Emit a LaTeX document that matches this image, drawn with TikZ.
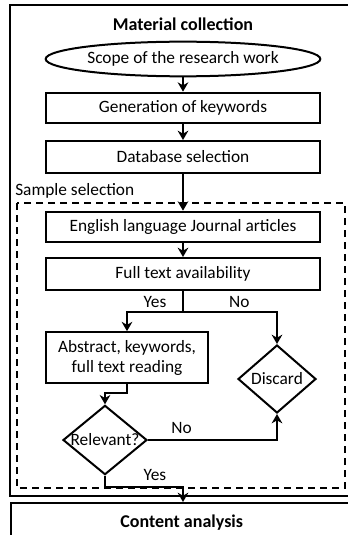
\documentclass[tikz,border=0pt]{standalone}
\usepackage{fontspec}
\setmainfont{Carlito}
\usepackage{tikz}
\usetikzlibrary{arrows,arrows.meta,shapes.geometric,positioning}
\tikzstyle{every node}=[font=\fontsize{13}{15}\selectfont]
\tikzstyle{procbox}=[draw,rectangle,line width=1.5pt,minimum width=206pt,minimum height=23pt,inner sep=2pt]
\tikzstyle{startbox}=[draw,ellipse,line width=1.5pt,minimum width=206pt,minimum height=26pt,inner sep=0pt]
\tikzstyle{decision}=[draw,diamond,line width=1.5pt,inner sep=0pt]
\tikzstyle{title}=[font=\fontsize{13.5}{15}\selectfont\bfseries]
\tikzstyle{flow}=[-{Stealth[length=7pt,width=8pt]},line width=2.2pt]

\begin{document}
\begin{tikzpicture}[x=0.75pt,y=-0.75pt]
\useasboundingbox (0,0) rectangle (348,535);
% frames
\draw[line width=1.5pt] (10,5) rectangle (356,496);
\draw[line width=1.5pt,dash pattern=on 5pt off 4pt] (17,203) rectangle (345,488);
\draw (183,24) node [title] (mat) {Material collection};
\draw (15,191) node [anchor=west,inner sep=0pt] (samp) {Sample selection};
\draw (10,502) node [draw,rectangle,line width=1.5pt,anchor=north west,minimum width=259pt,minimum height=30pt] (cont) {\hspace{-3pt}\textbf{\fontsize{13.5}{15}\selectfont Content analysis}};
% steps
\draw (183,59) node [startbox] (scope) {Scope of the research work};
\draw (183,108) node [procbox] (gen) {Generation of keywords};
\draw (183,157) node [procbox,minimum height=24pt] (db) {Database selection};
\draw (183,227) node [procbox] (eng) {English language Journal articles};
\draw (183,274) node [procbox,minimum height=24pt] (full) {Full text availability};
\draw (127,357.5) node [procbox,minimum width=121.5pt,minimum height=38pt,align=center] (abs) {Abstract, keywords,\\full text reading};
\draw (277,379) node [decision,minimum width=58.5pt,minimum height=51pt] (disc) {\makebox[0pt]{Discard}};
\draw (105,440) node [decision,minimum width=63pt,minimum height=52pt] (rel) {\makebox[0pt]{Relevant?}};
\coordinate (split) at (183,312);
\coordinate (bend) at (127,393);
\coordinate (join) at (183,487);
% arrows
\draw[flow] (scope) -- (gen);
\draw[flow] (gen) -- (db);
\draw[flow] (db) -- (eng);
\draw[flow] (eng) -- (full);
\draw[line width=2.2pt] (full) -- (split);
\draw[flow] (split) -| (abs.north) node[pos=0.25,above,yshift=-1pt] {Yes};
\draw[flow] (split) -| (disc.north) node[pos=0.3,above,yshift=-1pt] {No};
\draw[flow] (abs.south -| bend) -- (bend) -| (rel.north);
\draw[flow] (rel.east) -| (disc.south) node[pos=0.13,above] {No};
\draw[flow] (rel.south) |- (join) node[pos=0.82,above] {Yes} -- (cont.north -| join);
\end{tikzpicture}
\end{document}
